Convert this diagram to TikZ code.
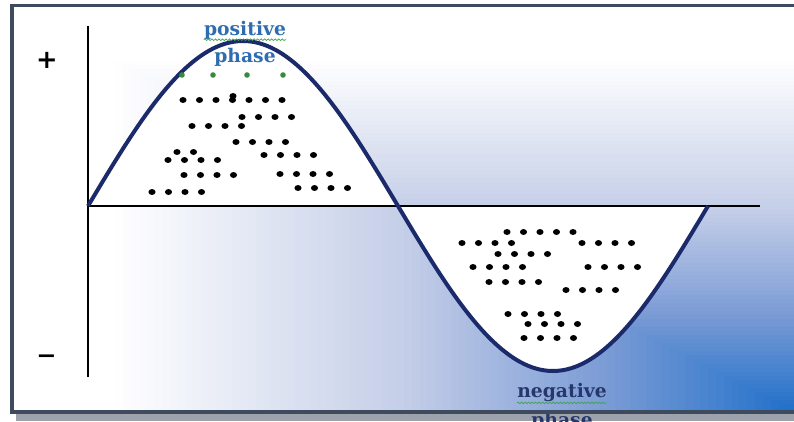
\documentclass[tikz,border=0pt]{standalone}
\usepackage{fontspec}
\usetikzlibrary{decorations.pathmorphing}
\newfontfamily\phasefont{DejaVu Serif}
\newfontfamily\signfont{DejaVu Sans}
\definecolor{wavenavy}{HTML}{1B2A6B}
\definecolor{phaseblue}{HTML}{2F6DB0}
\definecolor{phasenavy}{HTML}{26386B}
\definecolor{glowlight}{HTML}{C3CDE7}
\definecolor{glowmid}{HTML}{7C9CD6}
\definecolor{glowdeep}{HTML}{1E6FC9}
\definecolor{framegray}{HTML}{3E4A5E}
\definecolor{shadowgray}{HTML}{9EA2AA}
\definecolor{spellgreen}{HTML}{3FA34D}

\begin{document}
\begin{tikzpicture}[x=0.03cm, y=-0.03cm,
    wave/.style={draw=wavenavy, line width=3.4pt, line join=round},
    axisline/.style={draw=black, line width=1.5pt},
    ion/.style={fill=black},
    seed/.style={fill=spellgreen!85!black},
    phaselabel/.style={font=\phasefont\bfseries\fontsize{16}{19}\selectfont, inner sep=0pt},
    squiggle/.style={draw=spellgreen, line width=0.6pt, decorate, decoration={snake, amplitude=0.7pt, segment length=3pt}},
    sign/.style={font=\signfont\bfseries\fontsize{22}{22}\selectfont, inner sep=0pt}]
  \useasboundingbox (0,0) rectangle (794,421);
  \clip (0,0) rectangle (794,421);
  \fill[shadowgray] (16,414) rectangle (800,421);
  \node[phaselabel, text=phasenavy, anchor=base] (negphase) at (562,426) {phase};
  \fill[white] (12,6) rectangle (800,412);
  \foreach \i in {12,...,99}{
    \pgfmathsetmacro\tx{14+7.8*\i}
    \pgfmathsetmacro\ty{8+4.04*\i}
    \ifnum\i<50 \pgfmathtruncatemacro\p{(\i-12)*100/38}\colorlet{shadecol}{glowlight!\p!white}
    \else\ifnum\i<75 \pgfmathtruncatemacro\p{(\i-50)*4}\colorlet{shadecol}{glowmid!\p!glowlight}
    \else \pgfmathtruncatemacro\p{(\i-75)*4}\colorlet{shadecol}{glowdeep!\p!glowmid}\fi\fi
    \fill[shadecol] (\tx,\ty) rectangle (800,412);
  }

  \coordinate (origin) at (88,206);
  \coordinate (ytop) at (88,26);
  \coordinate (ybot) at (88,377);
  \coordinate (xend) at (760,206);

  \fill[white] plot[domain=0:180, samples=80] ({88+1.72222*\x},{206-165*sin(\x)}) -- cycle;
  \fill[white] plot[domain=180:360, samples=80] ({88+1.72222*\x},{206-165*sin(\x)}) -- cycle;

  \draw[axisline] (ytop) -- (ybot);
  \draw[axisline] (origin) -- (xend);
  \draw[wave] plot[domain=0:360, samples=160] ({88+1.72222*\x},{206-165*sin(\x)});

  \foreach \sx/\sy/\n in {183/100/7, 242/117/4, 192/126/4, 236/142/4, 177/152/2, 264/155/4,
      168/160/4, 184/175/4, 280/174/4, 298/188/4, 152/192/4,
      507/232/5, 462/243/4, 582/243/4, 498/254/4, 473/267/4, 588/267/4,
      489/282/4, 566/290/4, 508/314/4, 528/324/4, 524/338/4}
    \foreach \k in {1,...,\n}
      \fill[ion] ({\sx+16.5*(\k-1)},\sy) ellipse (3.6 and 3);
  \fill[ion] (233,96) ellipse (3.6 and 3);
  \foreach \gx in {182,213,247,283}
    \fill[seed] (\gx,75) circle (2.8);

  \node[phaselabel, text=phaseblue, anchor=base] (posword) at (245,35) {positive};
  \node[phaselabel, text=phaseblue, anchor=base] (posphase) at (245,62) {phase};
  \draw[squiggle] ([yshift=-4pt]posword.base west) -- ([yshift=-4pt]posword.base east);
  \node[phaselabel, text=phasenavy, anchor=base] (negword) at (562,397) {negative};
  \draw[squiggle] ([yshift=-5pt]negword.base west) -- ([yshift=-5pt]negword.base east);

  \node[sign] (plussign) at (47,60) {+};
  \node[sign, font=\signfont\fontsize{32}{32}\selectfont] (minussign) at (47,361) {–};

  \draw[framegray, line width=3pt] (12,5.5) -- (800,5.5);
  \draw[framegray, line width=3pt] (12,4) -- (12,412) -- (800,412);
\end{tikzpicture}
\end{document}
